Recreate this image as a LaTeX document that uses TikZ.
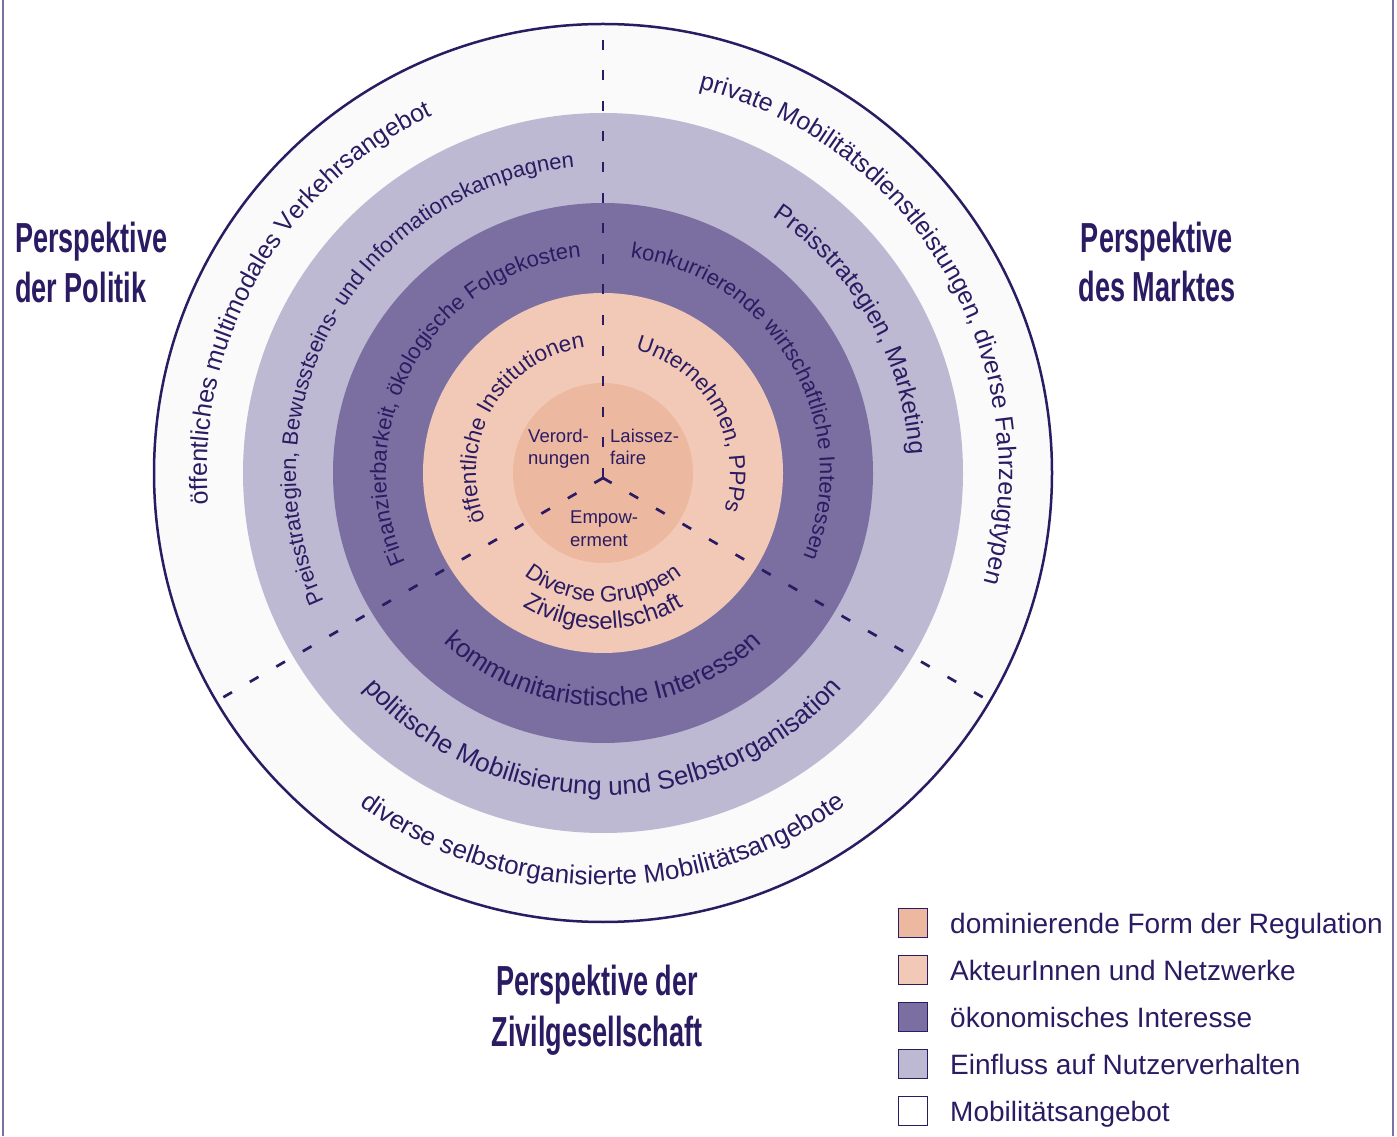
\documentclass[tikz,border=0pt]{standalone}
\usepackage{graphicx}
\usepackage{fontspec}
\setmainfont{Liberation Sans}
\usetikzlibrary{decorations.text}

\definecolor{ink}{HTML}{2B1B62}
\definecolor{framecol}{HTML}{7B70A1}
\definecolor{regul}{HTML}{EDB8A0}
\definecolor{actor}{HTML}{F2C9B7}
\definecolor{econ}{HTML}{7A6FA0}
\definecolor{infl}{HTML}{BEB9D3}
\definecolor{offer}{HTML}{FAFAFA}

% fonts for the ring labels (several sizes), the core and the headings
\newcommand\rfbig{\fontsize{26}{30}\selectfont\color{ink}}
\newcommand\rfmid{\fontsize{25}{30}\selectfont\color{ink}}
\newcommand\rfmidb{\fontsize{24.5}{30}\selectfont\color{ink}}
\newcommand\rfsoc{\fontsize{24}{28}\selectfont\color{ink}}
\newcommand\rfact{\fontsize{22.5}{28}\selectfont\color{ink}}
\newcommand\rfsmall{\fontsize{22}{26}\selectfont\color{ink}}
\newcommand\corefont{\fontsize{18.5}{22}\selectfont}
\newcommand\headtext[1]{\scalebox{0.645}[1]{\fontsize{42}{50}\selectfont\bfseries #1}}

\begin{document}
\begin{tikzpicture}[x=1pt,y=1pt,
  arctext/.style={decorate,decoration={text along path,text align=center,text={#1}}},
  sectorline/.style={ink,line width=2.7pt,dash pattern=on 10pt off 20.6pt},
  corelabel/.style={anchor=base west,inner sep=0pt,text=ink,font=\corefont},
  heading/.style={anchor=base,inner sep=0pt,text=ink},
  legbox/.style={draw=ink,line width=0.9pt,minimum size=29pt,inner sep=0pt},
  leglabel/.style={anchor=base west,inner sep=0pt,text=ink,font=\fontsize{28}{32}\selectfont}]

\useasboundingbox (0,0) rectangle (1397,1136);
\fill[white] (0,0) rectangle (1397,1136);

% side frame lines
\draw[framecol,line width=1.7pt] (3,0) -- (3,1136);
\draw[framecol,line width=1.7pt] (1393,0) -- (1393,1136);

% concentric rings
\coordinate (C) at (603,663);
\fill[offer] (C) circle[radius=449pt];
\fill[infl]  (C) circle[radius=360pt];
\fill[econ]  (C) circle[radius=270pt];
\fill[actor] (C) circle[radius=180pt];
\fill[regul] (C) circle[radius=90pt];
\draw[ink,line width=2.5pt] (C) circle[radius=449pt];

% three sector boundaries
\coordinate (J) at (603,658);
\coordinate (endN)  at ([shift={(90:441pt)}]J);
\coordinate (endSW) at ([shift={(210:441pt)}]J);
\coordinate (endSE) at ([shift={(330:441pt)}]J);
\draw[sectorline] (J) -- (endN);
\draw[sectorline] (J) -- (endSW);
\draw[sectorline] (J) -- (endSE);

% outer ring: Mobilitaetsangebot
\path[arctext={|\rfmid|öffentliches multimodales Verkehrsangebot}]
  ([shift={(245:396pt)}]C) arc[start angle=245,end angle=55,radius=396pt];
\path[arctext={|\rfmid|private Mobilitätsdienstleistungen, diverse Fahrzeugtypen}]
  ([shift={(125:396pt)}]C) arc[start angle=125,end angle=-65,radius=396pt];
\path[arctext={|\rfbig|diverse selbstorganisierte Mobilitätsangebote}]
  ([shift={(175:412pt)}]C) arc[start angle=175,end angle=365,radius=412pt];

% second ring: Einfluss auf Nutzerverhalten
\path[arctext={|\rfsmall|Preisstrategien, Bewusstseins- und Informationskampagnen}]
  ([shift={(245:307pt)}]C) arc[start angle=245,end angle=55,radius=307pt];
\path[arctext={|\rfmidb|Preisstrategien, Marketing}]
  ([shift={(125:307pt)}]C) arc[start angle=125,end angle=-65,radius=307pt];
\path[arctext={|\rfbig|politische Mobilisierung und Selbstorganisation}]
  ([shift={(175:322pt)}]C) arc[start angle=175,end angle=365,radius=322pt];

% third ring: oekonomisches Interesse
\path[arctext={|\rfsmall|Finanzierbarkeit, ökologische Folgekosten}]
  ([shift={(245:217pt)}]C) arc[start angle=245,end angle=55,radius=217pt];
\path[arctext={|\rfsmall|konkurrierende wirtschaftliche Interessen}]
  ([shift={(125:217pt)}]C) arc[start angle=125,end angle=-65,radius=217pt];
\path[arctext={|\rfbig|kommunitaristische Interessen}]
  ([shift={(175:233pt)}]C) arc[start angle=175,end angle=365,radius=233pt];

% fourth ring: AkteurInnen und Netzwerke
\path[arctext={|\rfact|öffentliche Institutionen}]
  ([shift={(245:127pt)}]C) arc[start angle=245,end angle=55,radius=127pt];
\path[arctext={|\rfact|Unternehmen, PPPs}]
  ([shift={(120:127pt)}]C) arc[start angle=120,end angle=-62,radius=127pt];
\path[arctext={|\rfact|Diverse Gruppen}]
  ([shift={(175:129pt)}]C) arc[start angle=175,end angle=365,radius=129pt];
\path[arctext={|\rfsoc|Zivilgesellschaft}]
  ([shift={(175:156pt)}]C) arc[start angle=175,end angle=365,radius=156pt];

% core: dominierende Form der Regulation
\node[corelabel] (verord)  at (528,693) {Verord-};
\node[corelabel] (nungen)  at (528,671) {nungen};
\node[corelabel] (laissez) at (610,693) {Laissez-};
\node[corelabel] (faire)   at (610,671) {faire};
\node[corelabel] (empow)   at (570,612) {Empow-};
\node[corelabel] (erment)  at (570,589) {erment};

% perspective headings
\node[heading,anchor=base west] (polA) at (15,883) {\headtext{Perspektive}};
\node[heading,anchor=base west] (polB) at (15,833) {\headtext{der Politik}};
\node[heading] (mktA) at (1157,883) {\headtext{Perspektive}};
\node[heading] (mktB) at (1157,834) {\headtext{des Marktes}};
\node[heading] (zivA) at (597,141) {\headtext{Perspektive der}};
\node[heading] (zivB) at (597,90)  {\headtext{Zivilgesellschaft}};

% legend
\node[legbox,fill=regul] (k1) at (913,213) {};
\node[legbox,fill=actor] (k2) at (913,166) {};
\node[legbox,fill=econ]  (k3) at (913,119) {};
\node[legbox,fill=infl]  (k4) at (913,72)  {};
\node[legbox,fill=white] (k5) at (913,25)  {};
\node[leglabel] (l1) at (950,203) {dominierende Form der Regulation};
\node[leglabel] (l2) at (950,156) {AkteurInnen und Netzwerke};
\node[leglabel] (l3) at (950,109) {ökonomisches Interesse};
\node[leglabel] (l4) at (950,62)  {Einfluss auf Nutzerverhalten};
\node[leglabel] (l5) at (950,15)  {Mobilitätsangebot};

\end{tikzpicture}
\end{document}
